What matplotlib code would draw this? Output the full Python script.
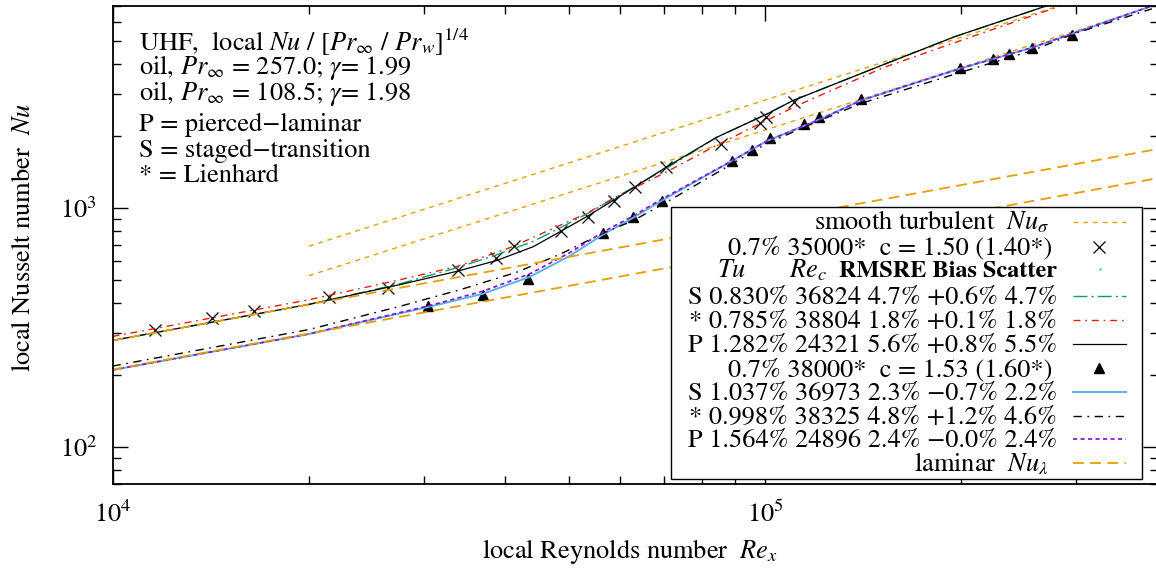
import matplotlib
matplotlib.use('Agg')
import matplotlib.pyplot as plt
from matplotlib.lines import Line2D
from matplotlib.patches import Rectangle
from matplotlib.ticker import NullFormatter

plt.rcParams['font.family'] = 'STIXGeneral'
plt.rcParams['mathtext.fontset'] = 'stix'
plt.rcParams['font.size'] = 19

ORANGE = '#E69F00'
TEAL = '#009E73'
SKY = '#56B4E9'
RED = '#E51E10'
PURPLE = '#9400D3'

# ---- measured points, Pr = 257.0 (crosses) and Pr = 108.5 (triangles)
re_cross = [11600, 14200, 16500, 21500, 26400, 33900, 38700, 41200, 48700,
            53500, 58600, 63300, 70400, 85600, 98100, 100400, 110800]
nu_cross = [309, 347, 371, 425, 463, 551, 618, 694, 802,
            917, 1070, 1224, 1483, 1848, 2260, 2393, 2764]
re_tri = [30500, 37000, 43400, 56500, 62800, 69500, 89000, 95500, 101800,
          114800, 121000, 140300, 199000, 224000, 237000, 256600, 295400]
nu_tri = [390, 434, 506, 787, 917, 1070, 1569, 1744, 1957,
          2239, 2393, 2845, 3868, 4217, 4424, 4687, 5309]

# ---- asymptotes
re_lam = [1e4, 4e5]
nu_lam1 = [279, 1765]
nu_lam2 = [211, 1334]
re_turb1 = [2e4, 2.82e5]
nu_turb1 = [692, 7000]
re_turb2 = [2e4, 4e5]
nu_turb2 = [521, 7090]

# ---- fitted curves, upper set (Pr = 257.0)
re_p1 = [10000, 20000, 27600, 33700, 38800, 44100, 48500, 53300, 58500,
         63600, 70700, 84300, 100600, 110500, 152000, 195300, 270300]
nu_p1 = [279, 395, 478, 543, 603, 688, 795, 920, 1075,
         1240, 1486, 1975, 2470, 2818, 3981, 5208, 7013]
re_s1 = [10000, 20000, 27600, 33700, 38800, 44100, 48500, 53300, 58500,
         70700, 84300, 100600, 110500, 152000, 195300, 270300]
nu_s1 = [279, 395, 482, 562, 637, 724, 825, 944, 1090,
         1468, 1975, 2470, 2818, 3981, 5208, 7013]
re_l1 = [10000, 20000, 27600, 33700, 41100, 53300, 58500, 70700, 84300,
         100600, 112600, 152000, 195300, 284200]
nu_l1 = [290, 413, 501, 569, 690, 950, 1095, 1417, 1830,
         2326, 2700, 3868, 4918, 7013]

# ---- fitted curves, lower set (Pr = 108.5)
re_s2 = [10000, 20000, 30700, 37000, 43600, 50300, 56500, 62800, 69000,
         89400, 100600, 121400, 140300, 199000, 256600, 400000]
nu_s2 = [210, 297, 387, 438, 515, 632, 775, 910, 1062,
         1585, 1905, 2350, 2818, 3831, 4687, 7150]
re_p2 = re_s2
nu_p2 = [210, 297, 391, 449, 530, 652, 794, 926, 1078,
         1585, 1905, 2350, 2818, 3831, 4687, 7150]
re_l2 = [10000, 20000, 27600, 34100, 41600, 48500, 56500, 62800, 70700,
         89400, 100600, 118500, 140300, 199000, 256600, 296800, 391800]
nu_l2 = [218, 310, 388, 455, 538, 640, 785, 885, 1059,
         1540, 1860, 2261, 2738, 3687, 4553, 5345, 6813]

W, H = 1156, 569
fig = plt.figure(figsize=(W / 100, H / 100), dpi=100)
X0, X1, Y0, Y1 = 112.5, 1157.8, 6, 484
ax = fig.add_axes([X0 / W, 1 - Y1 / H, (X1 - X0) / W, (Y1 - Y0) / H])


def fx(px):
    return px / W


def fy(py):
    return 1 - py / H


# line styles (shared with the legend)
sty_turb = dict(color=ORANGE, lw=1.0, dashes=(3.5, 3.5))
sty_s1 = dict(color=TEAL, lw=1.0, dashes=(10, 3, 1.5, 3))
sty_l1 = dict(color=RED, lw=1.0, dashes=(5, 3.5, 1.2, 3.5))
sty_p1 = dict(color='black', lw=0.9)
sty_s2 = dict(color=SKY, lw=1.4)
sty_l2 = dict(color='black', lw=1.0, dashes=(6, 4, 1.2, 4))
sty_p2 = dict(color=PURPLE, lw=1.2, dashes=(2.5, 2))
sty_lam = dict(color=ORANGE, lw=1.3, dashes=(6, 3.5))
sty_x = dict(ls='none', marker='x', ms=8, mew=0.9, color='black')
sty_t = dict(ls='none', marker='^', ms=6.5, color='black')

ax.plot(re_turb1, nu_turb1, **sty_turb)
ax.plot(re_turb2, nu_turb2, **sty_turb)
ax.plot(re_cross, nu_cross, **sty_x)
ax.plot(re_s1, nu_s1, **sty_s1)
ax.plot(re_l1, nu_l1, **sty_l1)
ax.plot(re_p1, nu_p1, **sty_p1)
ax.plot(re_tri, nu_tri, **sty_t)
ax.plot(re_s2, nu_s2, **sty_s2)
ax.plot(re_l2, nu_l2, **sty_l2)
ax.plot(re_p2, nu_p2, **sty_p2)
ax.plot(re_lam, nu_lam1, **sty_lam)
ax.plot(re_lam, nu_lam2, **sty_lam)

ax.set_xscale('log')
ax.set_yscale('log')
ax.set_xlim(1e4, 4e5)
ax.set_ylim(70, 7000)
ax.xaxis.set_minor_formatter(NullFormatter())
ax.yaxis.set_minor_formatter(NullFormatter())
ax.tick_params(which='both', direction='in', top=True, right=True, width=1)
ax.tick_params(which='major', length=11)
ax.tick_params(which='minor', length=5.5)
ax.tick_params(axis='x', which='major', pad=13)
ax.tick_params(axis='y', which='major', pad=11)
for sp in ax.spines.values():
    sp.set_linewidth(1.3)

fig.text(fx(630), fy(558), r'local Reynolds number  $Re_x$', ha='center', va='baseline')
fig.text(fx(24), fy(237), r'local Nusselt number  $Nu$', rotation=90, ha='center', va='center')

# text block, upper left
info = [r'UHF,  local $Nu$ / [$Pr_\infty$ / $Pr_w]^{1/4}$',
        r'oil, $Pr_\infty$ = 257.0; $\gamma$= 1.99',
        r'oil, $Pr_\infty$ = 108.5; $\gamma$= 1.98',
        'P = pierced\u2212laminar',
        'S = staged\u2212transition',
        '* = Lienhard']
info_base = [50, 74, 100, 131, 156.5, 182.5]
for s, b in zip(info, info_base):
    fig.text(fx(139), fy(b), s, ha='left', va='baseline')

# legend drawn by hand so that the text is right-justified like the original
fig.add_artist(Rectangle((fx(671), fy(479)), (1142 - 671) / W, (479 - 207) / H,
                         transform=fig.transFigure, facecolor='white',
                         edgecolor='black', lw=1.0, zorder=4))
rows = [221.7, 246.7, 269.3, 296, 320, 344, 368.3, 391.7, 416, 439.3, 463.3]
entries = [
    (r'smooth turbulent  $Nu_\sigma$', 1049, sty_turb),
    ('0.7% 35000*  c = 1.50 (1.40*)', 1052, sty_x),
    (None, None, None),
    ('S 0.830% 36824 4.7% +0.6% 4.7%', 1057, sty_s1),
    ('* 0.785% 38804 1.8% +0.1% 1.8%', 1057, sty_l1),
    ('P 1.282% 24321 5.6% +0.8% 5.5%', 1057, sty_p1),
    ('0.7% 38000*  c = 1.53 (1.60*)', 1052, sty_t),
    ('S 1.037% 36973 2.3% \u22120.7% 2.2%', 1057, sty_s2),
    ('* 0.998% 38325 4.8% +1.2% 4.6%', 1057, sty_l2),
    ('P 1.564% 24896 2.4% \u22120.0% 2.4%', 1057, sty_p2),
    (r'laminar  $Nu_\lambda$', 1049, sty_lam),
]
for (label, xr, sty), c in zip(entries, rows):
    if label is None:
        continue
    fig.text(fx(xr), fy(c + 8), label, ha='right', va='baseline', zorder=5)
    if sty.get('ls') == 'none':
        h = Line2D([fx(1099)], [fy(c)], transform=fig.transFigure, zorder=5, **sty)
    else:
        h = Line2D([fx(1073), fx(1126)], [fy(c), fy(c)], transform=fig.transFigure,
                   zorder=5, **sty)
    fig.add_artist(h)

# header row
hc = rows[2] + 8
fig.text(fx(732), fy(hc), r'$Tu$', ha='center', va='baseline', zorder=5)
fig.text(fx(808), fy(hc), r'$Re_c$', ha='center', va='baseline', zorder=5)
fig.text(fx(1057), fy(hc), 'RMSRE Bias Scatter', ha='right', va='baseline',
         fontweight='bold', fontsize=17.5, zorder=5)
fig.add_artist(Line2D([fx(1100)], [fy(rows[2])], transform=fig.transFigure, ls='none',
                      marker='.', ms=1.5, color=SKY, zorder=5))

fig.savefig('out.png', dpi=100)
